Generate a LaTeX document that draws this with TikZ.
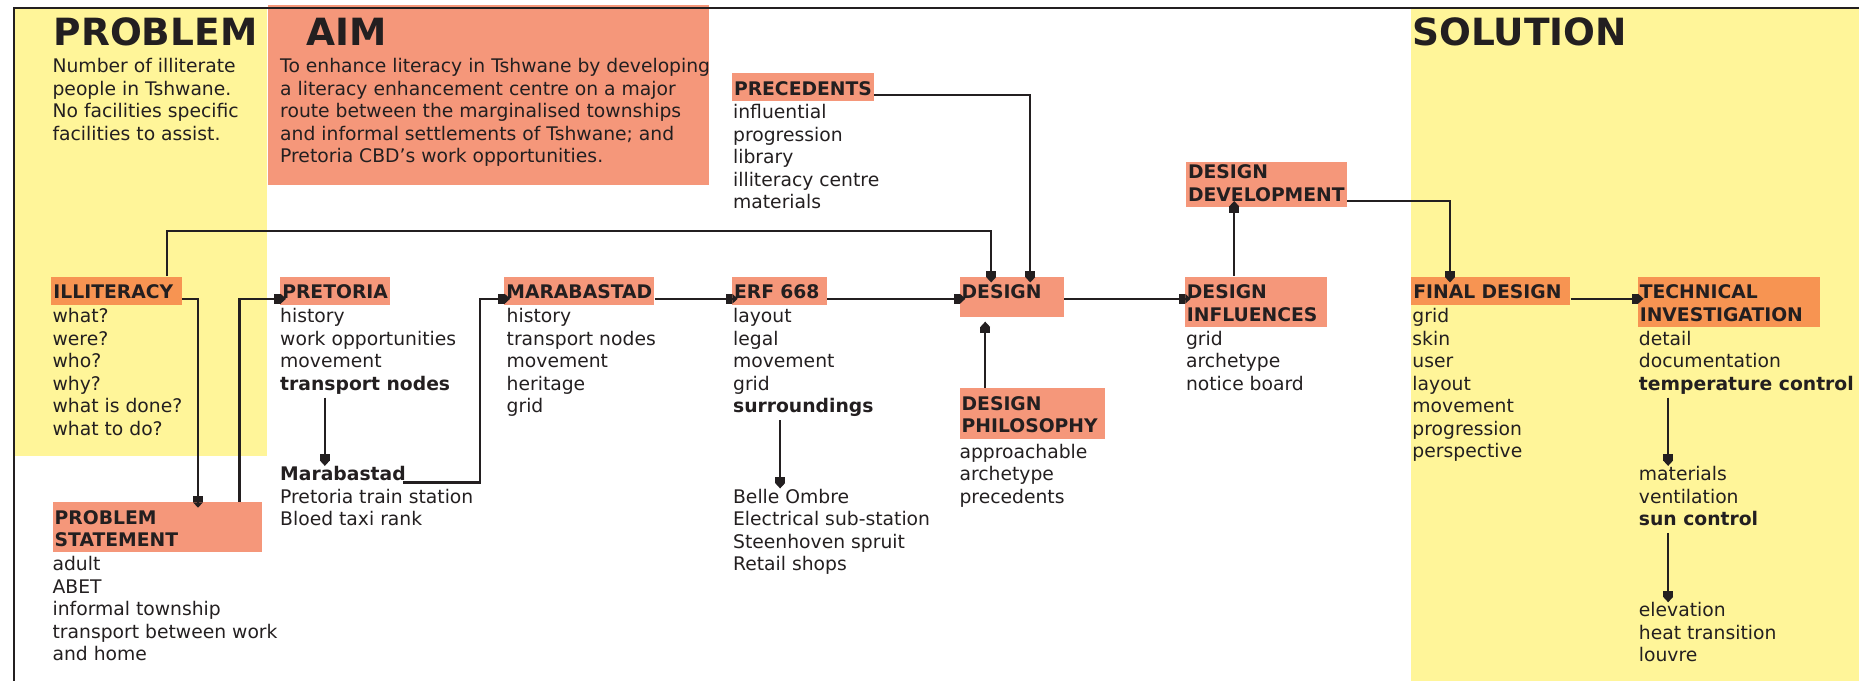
\documentclass[tikz,border=0pt]{standalone}
\usepackage{fontspec}
\setmainfont{DejaVu Sans}
\usetikzlibrary{arrows.meta}

\definecolor{ink}{RGB}{35,31,32}
\definecolor{salmon}{RGB}{245,151,122}
\definecolor{tangerine}{RGB}{247,148,82}
\definecolor{lemon}{RGB}{255,245,153}

\tikzset{
  flow/.style={draw=ink, line width=1.1pt, -{Square[length=3pt,width=4.6pt]Triangle[length=2.6pt,width=4.6pt]}},
  flowin/.style={flow, shorten >=-3pt},
  tag/.style={fill=salmon, text=ink, font=\bfseries, anchor=north west, align=left, inner xsep=1pt, inner ysep=1.5pt, execute at begin node=\rule{0pt}{9.2pt}, execute at end node=\rule[-1.2pt]{0pt}{1.2pt}},
  hot/.style={tag, fill=tangerine},
  items/.style={text=ink, anchor=north west, align=left, inner sep=0pt, execute at begin node=\strut, execute at end node=\strut},
  heading/.style={text=ink, font=\fontsize{18}{21}\selectfont\bfseries, anchor=base west, inner sep=0pt}
}

\begin{document}
\begin{tikzpicture}[x=0.02cm,y=-0.02cm]
\fontsize{9}{10.8}\selectfont
\useasboundingbox (0,0) rectangle (1568,574);
\fill[lemon] (12,7) rectangle (225,385);
\fill[lemon] (1190,7) rectangle (1568,574);
\fill[salmon] (226,4) rectangle (598,156);
\draw[ink, line width=1.1pt] (12,574) -- (12,7) -- (1568,7);

\node[heading] (problem) at (45,38) {PROBLEM};
\node[heading] (aim) at (258,38) {AIM};
\node[heading] (solution) at (1191,38) {SOLUTION};
\node[items] (problemtext) at (44,49) {Number of illiterate\\people in Tshwane.\\No facilities specific\\facilities to assist.};
\node[items] (aimtext) at (236,49) {To enhance literacy in Tshwane by developing\\a literacy enhancement centre on a major\\route between the marginalised townships\\and informal settlements of Tshwane; and\\Pretoria CBD's work opportunities.};

\node[hot, text width=60.6pt] (illiteracy) at (43,233) {ILLITERACY};
\node[tag, text width=98.7pt] (statement) at (44,423) {PROBLEM\\STATEMENT};
\node[tag] (pretoria) at (236,233) {PRETORIA};
\node[tag] (marabastad) at (425,233) {MARABASTAD};
\node[tag, text width=43.5pt] (erf) at (617,233) {ERF 668};
\node[tag] (precedents) at (617,61) {PRECEDENTS};
\node[tag, text width=48pt, text depth=7.2pt] (design) at (809,233) {DESIGN};
\node[tag, text width=68pt] (philosophy) at (809,327) {DESIGN\\PHILOSOPHY};
\node[tag, text width=66.3pt] (influences) at (999,233) {DESIGN\\INFLUENCES};
\node[tag] (development) at (1000,136) {DESIGN\\DEVELOPMENT};
\node[hot, text width=74.3pt] (final) at (1190,233) {FINAL DESIGN};
\node[hot, text width=85.6pt] (technical) at (1381,233) {TECHNICAL\\INVESTIGATION};

\node[items] (illitems) at (44,260) {what?\\were?\\who?\\why?\\what is done?\\what to do?};
\node[items] (statementitems) at (44,469) {adult\\ABET\\informal township\\transport between work\\and home};
\node[items] (pretoriaitems) at (236,260) {history\\work opportunities\\movement\\\textbf{transport nodes}};
\node[items] (nodes) at (236,393) {\textbf{Marabastad}\\Pretoria train station\\Bloed taxi rank};
\node[items] (marabastaditems) at (427,260) {history\\transport nodes\\movement\\heritage\\grid};
\node[items] (erfitems) at (618,260) {layout\\legal\\movement\\grid\\\textbf{surroundings}};
\node[items] (surroundings) at (618,412) {Belle Ombre\\Electrical sub-station\\Steenhoven spruit\\Retail shops};
\node[items] (precedentitems) at (618,88) {influential\\progression\\library\\illiteracy centre\\materials};
\node[items] (philosophyitems) at (809,374) {approachable\\archetype\\precedents};
\node[items] (influenceitems) at (1000,279) {grid\\archetype\\notice board};
\node[items] (finalitems) at (1191,260) {grid\\skin\\user\\layout\\movement\\progression\\perspective};
\node[items] (technicalitems) at (1382,279) {detail\\documentation\\\textbf{temperature control}};
\node[items] (temperature) at (1382,393) {materials\\ventilation\\\textbf{sun control}};
\node[items] (sun) at (1382,508) {elevation\\heat transition\\louvre};

\coordinate (row) at (0,252);

\path[draw,flowin] (illiteracy.east |- row) -| ([shift={(123,0)}]statement.north west);
\path[draw,flowin] ([shift={(158,0)}]statement.north west) |- (pretoria.west |- row);
\path[draw,flowin] ([shift={(98,0)}]illiteracy.north west) -- ++(0,-38) -| ([shift={(27,0)}]design.north west);
\path[draw,flowin] ([yshift=3pt]precedents.south east) -| ([shift={(60,0)}]design.north west);
\path[draw,flow] ([shift={(38,0)}]pretoriaitems.south west) -- ([shift={(38,0)}]nodes.north west);
\path[draw,flowin] ([shift={(104,14)}]nodes.north west) -- ++(65,0) |- (marabastad.west |- row);
\path[draw,flowin] (marabastad.east |- row) -- (erf.west |- row);
\path[draw,flow] ([shift={(40,0)}]erfitems.south west) -- ([shift={(40,0)}]surroundings.north west);
\path[draw,flowin] (erf.east |- row) -- (design.west |- row);
\path[draw,flow,shorten >=2pt] ([shift={(22,0)}]philosophy.north west) -- ([shift={(22,0)}]design.south west);
\path[draw,flowin] (design.east |- row) -- (influences.west |- row);
\path[draw,flowin] ([shift={(42,0)}]influences.north west) -- ([shift={(41,0)}]development.south west);
\path[draw,flowin] ([yshift=3pt]development.south east) -| ([shift={(33,0)}]final.north west);
\path[draw,flowin] (final.east |- row) -- (technical.west |- row);
\path[draw,flow] ([shift={(25,0)}]technicalitems.south west) -- ([shift={(25,0)}]temperature.north west);
\path[draw,flow] ([shift={(25,0)}]temperature.south west) -- ([shift={(25,0)}]sun.north west);
\end{tikzpicture}
\end{document}
